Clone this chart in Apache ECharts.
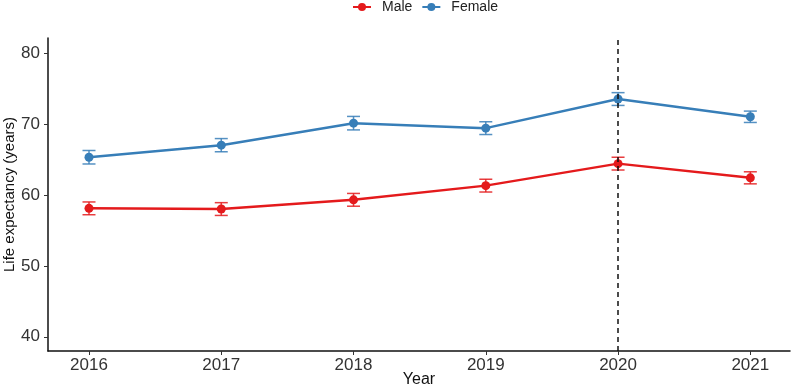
<!DOCTYPE html>
<html>
<head>
<meta charset="utf-8">
<script src="https://cdn.jsdelivr.net/npm/echarts@6/dist/echarts.min.js"></script>
<style>
  html, body { margin: 0; padding: 0; background: #fff; }
  #chart { width: 794px; height: 387px; }
</style>
</head>
<body>
<div id="chart"></div>
<script>
var years = [2016, 2017, 2018, 2019, 2020, 2021];
var yTicks = [40, 50, 60, 70, 80];

var maleMean = [58.1, 58.0, 59.3, 61.3, 64.4, 62.4];
var maleErr  = [0.9, 0.9, 0.9, 0.9, 0.9, 0.85];

var femaleMean = [65.3, 67.0, 70.1, 69.4, 73.5, 71.0];
var femaleErr  = [0.95, 0.93, 0.95, 0.9, 0.9, 0.8];

var cutYear = 2020;

var RED = '#E41A1C';
var BLUE = '#377EB8';
var FONT = 'Liberation Sans, Arial, sans-serif';

function pairs(vals){
	var out = [];
	for(var i=0; i<years.length; i++){
		out.push([years[i], vals[i]]);
	}
	return out;
}

function errData(mean, err){
	var out = [];
	for(var i=0; i<years.length; i++){
		out.push([years[i], mean[i]-err[i], mean[i]+err[i]]);
	}
	return out;
}

function errorBars(color){
	return function(params, api){
		var lo = api.coord([api.value(0), api.value(1)]);
		var hi = api.coord([api.value(0), api.value(2)]);
		var half = 6.5;
		var style = { stroke: color, lineWidth: 1.5, opacity: 0.85 };
		return {
			type: 'group',
			children: [
				{ type: 'line', shape: { x1: lo[0], y1: lo[1], x2: hi[0], y2: hi[1] }, style: style },
				{ type: 'line', shape: { x1: lo[0]-half, y1: lo[1], x2: lo[0]+half, y2: lo[1] }, style: style },
				{ type: 'line', shape: { x1: hi[0]-half, y1: hi[1], x2: hi[0]+half, y2: hi[1] }, style: style }
			]
		};
	};
}

var chart = echarts.init(document.getElementById('chart'));

var option = {
	animation: false,
	textStyle: { fontFamily: FONT },
	legend: {
		top: 0,
		left: 352,
		padding: 0,
		itemWidth: 18,
		itemHeight: 10,
		itemGap: 9,
		textStyle: { fontSize: 14, color: '#222', fontFamily: FONT, padding: [0, 0, 0, 6] },
		data: ['Male', 'Female']
	},
	grid: { left: 48, right: 4, top: 38, bottom: 36, containLabel: false, outerBoundsMode: 'none' },
	xAxis: {
		type: 'value',
		min: 2015.69,
		max: 2021.3,
		name: 'Year',
		nameLocation: 'middle',
		nameGap: 21,
		nameMoveOverlap: false,
		nameTextStyle: { fontSize: 16, color: '#111', fontFamily: FONT },
		axisLine: { show: true, lineStyle: { color: '#111', width: 1.5 } },
		axisTick: { show: true, customValues: years, length: 4, lineStyle: { color: '#333' } },
		axisLabel: {
			customValues: years, fontSize: 17, color: '#333', margin: 6, fontFamily: FONT,
			formatter: function(v){ return String(v); }
		},
		splitLine: { show: false }
	},
	yAxis: {
		type: 'value',
		min: 38,
		max: 82.1,
		name: 'Life expectancy (years)',
		nameLocation: 'middle',
		nameGap: 31,
		nameMoveOverlap: false,
		nameTextStyle: { fontSize: 15, color: '#111', fontFamily: FONT },
		axisLine: { show: true, lineStyle: { color: '#111', width: 1.5 } },
		axisTick: { show: true, customValues: yTicks, length: 4, lineStyle: { color: '#333' } },
		axisLabel: { customValues: yTicks, fontSize: 17, color: '#333', margin: 8, fontFamily: FONT },
		splitLine: { show: false }
	},
	series: [
		{
			name: 'Male',
			type: 'line',
			data: pairs(maleMean),
			symbol: 'circle',
			symbolSize: 9,
			itemStyle: { color: RED },
			lineStyle: { color: RED, width: 2.5 },
			z: 3,
			markLine: {
				silent: true,
				symbol: 'none',
				label: { show: false },
				lineStyle: { color: '#111', type: [5, 4], width: 1.5 },
				data: [{ xAxis: cutYear }]
			}
		},
		{
			name: 'Female',
			type: 'line',
			data: pairs(femaleMean),
			symbol: 'circle',
			symbolSize: 9,
			itemStyle: { color: BLUE },
			lineStyle: { color: BLUE, width: 2.5 },
			z: 3
		},
		{
			name: 'Male',
			type: 'custom',
			renderItem: errorBars(RED),
			encode: { x: 0, y: [1, 2] },
			data: errData(maleMean, maleErr),
			z: 2
		},
		{
			name: 'Female',
			type: 'custom',
			renderItem: errorBars(BLUE),
			encode: { x: 0, y: [1, 2] },
			data: errData(femaleMean, femaleErr),
			z: 2
		}
	]
};

chart.setOption(option);
</script>
</body>
</html>
